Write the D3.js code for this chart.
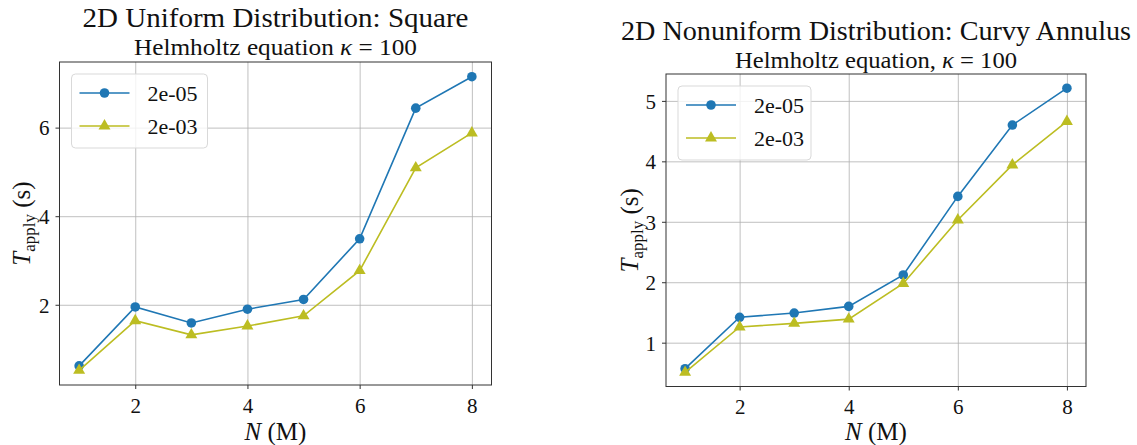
<!DOCTYPE html>
<html>
<head>
<meta charset="utf-8">
<script src="https://cdn.jsdelivr.net/npm/d3@7"></script>
<style>
	body { margin: 0; background: #fff; }
	svg { display: block; }
	svg text, svg tspan { font-family: 'Liberation Serif', serif !important; fill: #111; }
	.grid line { stroke: #b0b0b0; stroke-width: 0.8; }
	.grid path { display: none; }
	.axis path { display: none; }
	.axis line { stroke: #333; }
</style>
</head>
<body>
<div id="chart"></div>
<script>
// Chart data
var N_VALUES = [1, 2, 3, 4, 5, 6, 7, 8];
var SERIES_NAMES = ['2e-05', '2e-03'];
var X_TICKS = [2, 4, 6, 8];

var SQUARE_TOL_5 = [0.62, 1.95, 1.59, 1.90, 2.12, 3.49, 6.44, 7.15];
var SQUARE_TOL_3 = [0.52, 1.64, 1.32, 1.52, 1.75, 2.77, 5.09, 5.88];
var SQUARE_Y_TICKS = [2, 4, 6];

var ANNULUS_TOL_5 = [0.57, 1.42, 1.49, 1.60, 2.12, 3.42, 4.60, 5.21];
var ANNULUS_TOL_3 = [0.51, 1.26, 1.32, 1.39, 1.98, 3.03, 3.94, 4.66];
var ANNULUS_Y_TICKS = [1, 2, 3, 4, 5];

var COLORS = ['#1f77b4', '#bcbd22'];
var MARKERS = [d3.symbolCircle, d3.symbolTriangle];

var WIDTH = 1137;
var HEIGHT = 445;
var FONT = "'Liberation Serif', serif";

var svg = d3.select('#chart')
	.append('svg')
	.attr('width', WIDTH)
	.attr('height', HEIGHT)
	.attr('font-family', FONT);

/*
 * Render one panel.
 */
var renderPanel = function(config) {
	var box = config['box'];
	var w = box.right - box.left;
	var h = box.bottom - box.top;

	var all = config['series'][0].concat(config['series'][1]);
	var yMin = d3.min(all);
	var yMax = d3.max(all);
	var pad = (yMax - yMin) * 0.05;

	var xScale = d3.scaleLinear()
		.domain([0.65, 8.35])
		.range([0, w]);

	var yScale = d3.scaleLinear()
		.domain([yMin - pad, yMax + pad])
		.range([h, 0]);

	var g = svg.append('g')
		.attr('transform', 'translate(' + box.left + ',' + box.top + ')');

	// grid
	g.append('g')
		.attr('class', 'grid')
		.attr('transform', 'translate(0,' + h + ')')
		.call(d3.axisBottom(xScale).tickValues(X_TICKS).tickSize(-h).tickFormat(''));

	g.append('g')
		.attr('class', 'grid')
		.call(d3.axisLeft(yScale).tickValues(config['yTicks']).tickSize(-w).tickFormat(''));

	// axes
	var xAxis = g.append('g')
		.attr('class', 'axis')
		.attr('transform', 'translate(0,' + h + ')')
		.call(d3.axisBottom(xScale).tickValues(X_TICKS).tickSize(4).tickPadding(6).tickFormat(d3.format('d')));
	xAxis.attr('font-family', FONT);
	xAxis.selectAll('text').attr('font-size', 21).attr('dy', '0.85em');

	var yAxis = g.append('g')
		.attr('class', 'axis')
		.call(d3.axisLeft(yScale).tickValues(config['yTicks']).tickSize(4).tickPadding(6).tickFormat(d3.format('d')));
	yAxis.attr('font-family', FONT);
	yAxis.selectAll('text').attr('font-size', 21).attr('dy', '0.35em');

	// lines + markers
	var line = d3.line()
		.x(function(d, i) { return xScale(N_VALUES[i]); })
		.y(function(d) { return yScale(d); });

	config['series'].forEach(function(values, s) {
		g.append('path')
			.attr('d', line(values))
			.attr('fill', 'none')
			.attr('stroke', COLORS[s])
			.attr('stroke-width', 1.6);

		g.append('g')
			.selectAll('path')
			.data(values)
			.enter()
			.append('path')
			.attr('d', d3.symbol().type(MARKERS[s]).size(s == 0 ? 72 : 62))
			.attr('fill', COLORS[s])
			.attr('transform', function(d, i) {
				return 'translate(' + xScale(N_VALUES[i]) + ',' + yScale(d) + ')';
			});
	});

	// frame
	g.append('rect')
		.attr('width', w)
		.attr('height', h)
		.attr('fill', 'none')
		.attr('stroke', '#333')
		.attr('stroke-width', 1);

	// legend
	var lg = g.append('g')
		.attr('transform', 'translate(12,12)');

	lg.append('rect')
		.attr('width', config['legendWidth'])
		.attr('height', 74)
		.attr('rx', 4)
		.attr('fill', 'rgba(255,255,255,0.8)')
		.attr('stroke', '#d9d9d9');

	SERIES_NAMES.forEach(function(name, s) {
		var y = 19 + s * 33;
		lg.append('line')
			.attr('x1', 8).attr('x2', 58)
			.attr('y1', y).attr('y2', y)
			.attr('stroke', COLORS[s])
			.attr('stroke-width', 1.6);
		lg.append('path')
			.attr('d', d3.symbol().type(MARKERS[s]).size(s == 0 ? 72 : 62))
			.attr('fill', COLORS[s])
			.attr('transform', 'translate(33,' + y + ')');
		lg.append('text')
			.attr('x', 76)
			.attr('y', y)
			.attr('dy', '0.35em')
			.attr('font-size', 22)
			.text(name);
	});

	// titles
	svg.append('text')
		.attr('x', box.left + w / 2)
		.attr('y', config['titleY'])
		.attr('text-anchor', 'middle')
		.attr('font-size', 28)
		.attr('textLength', config['titleWidth'])
		.attr('lengthAdjust', 'spacingAndGlyphs')
		.text(config['title']);

	var sub = svg.append('text')
		.attr('x', box.left + w / 2)
		.attr('y', config['titleY'] + 28)
		.attr('text-anchor', 'middle')
		.attr('font-size', 24)
		.attr('textLength', config['subtitleWidth'])
		.attr('lengthAdjust', 'spacingAndGlyphs');
	sub.append('tspan').text(config['subtitle']);
	sub.append('tspan').attr('font-style', 'italic').text('\u03BA');
	sub.append('tspan').text(' = 100');

	// x label
	var xl = svg.append('text')
		.attr('x', box.left + w / 2)
		.attr('y', 440)
		.attr('text-anchor', 'middle')
		.attr('font-size', 25);
	xl.append('tspan').attr('font-style', 'italic').text('N');
	xl.append('tspan').text(' (M)');

	// y label
	var yl = svg.append('text')
		.attr('transform', 'translate(' + config['yLabelX'] + ',' + (box.top + h / 2) + ') rotate(-90)')
		.attr('text-anchor', 'middle')
		.attr('font-size', 25);
	yl.append('tspan').attr('font-style', 'italic').text('T');
	yl.append('tspan').attr('font-size', 17).attr('dy', 5).text('apply');
	yl.append('tspan').attr('dy', -5).text(' (s)');
};

renderPanel({
	box: { left: 59.5, top: 62, right: 491.5, bottom: 385 },
	series: [SQUARE_TOL_5, SQUARE_TOL_3],
	yTicks: SQUARE_Y_TICKS,
	title: '2D Uniform Distribution: Square',
	titleWidth: 386,
	subtitle: 'Helmholtz equation ',
	subtitleWidth: 283,
	titleY: 27,
	legendWidth: 136,
	yLabelX: 30
});

renderPanel({
	box: { left: 666, top: 74, right: 1086, bottom: 386.5 },
	series: [ANNULUS_TOL_5, ANNULUS_TOL_3],
	yTicks: ANNULUS_Y_TICKS,
	title: '2D Nonuniform Distribution: Curvy Annulus',
	titleWidth: 510,
	subtitle: 'Helmholtz equation, ',
	subtitleWidth: 282,
	titleY: 40,
	legendWidth: 133,
	yLabelX: 638
});
</script>
</body>
</html>
